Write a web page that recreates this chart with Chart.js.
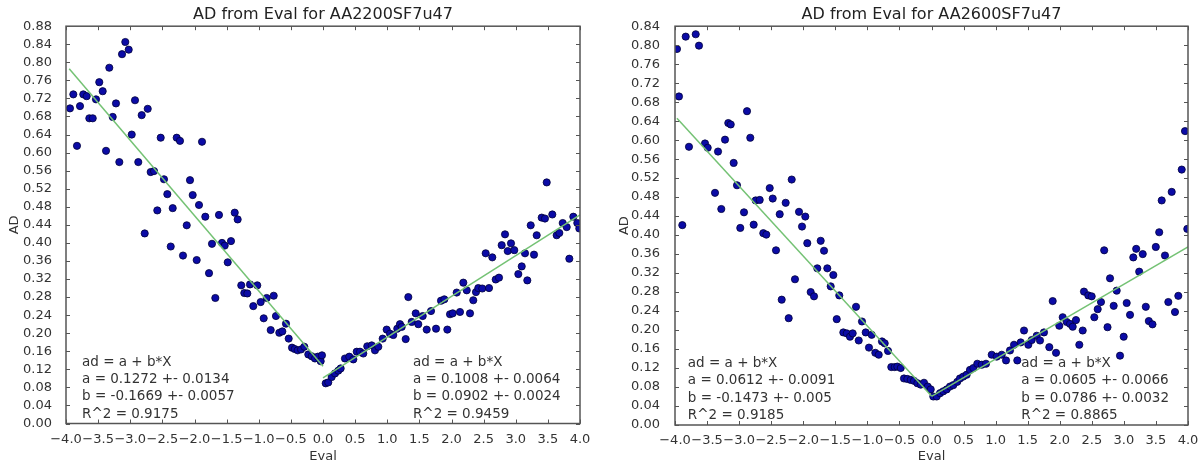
<!DOCTYPE html>
<html><head><meta charset="utf-8">
<script src="https://cdn.jsdelivr.net/npm/chart.js@4.4.1/dist/chart.umd.min.js"></script>
<style>
html,body{margin:0;padding:0;background:#fff;}
#wrap{position:relative;width:1199px;height:464px;overflow:hidden;background:#fff;}
canvas{position:absolute;top:0;}
#c1{left:0;} #c2{left:600px;}
</style></head><body>
<div id="wrap"><canvas id="c1" width="600" height="464"></canvas><canvas id="c2" width="599" height="464"></canvas></div>
<script>
// ---------- data ----------
const c1Title = 'AD from Eval for AA2200SF7u47';
const c2Title = 'AD from Eval for AA2600SF7u47';
const xLabel = 'Eval';
const yLabel = 'AD';
const evalTicks = [-4,-3.5,-3,-2.5,-2,-1.5,-1,-0.5,0,0.5,1,1.5,2,2.5,3,3.5,4];
const c1AdTicks = [0,0.04,0.08,0.12,0.16,0.2,0.24,0.28,0.32,0.36,0.4,0.44,0.48,0.52,0.56,0.6,0.64,0.68,0.72,0.76,0.8,0.84,0.88];
const c2AdTicks = [0,0.04,0.08,0.12,0.16,0.2,0.24,0.28,0.32,0.36,0.4,0.44,0.48,0.52,0.56,0.6,0.64,0.68,0.72,0.76,0.8,0.84];

const c1EvalNeg = [-3.938,-3.886,-3.829,-3.782,-3.731,-3.678,-3.637,-3.584,-3.533,-3.482,-3.429,-3.377,-3.326,-3.273,-3.222,-3.170,-3.128,-3.077,-3.024,-2.977,-2.926,-2.875,-2.822,-2.775,-2.728,-2.682,-2.630,-2.579,-2.526,-2.475,-2.423,-2.370,-2.339,-2.277,-2.226,-2.179,-2.121,-2.070,-2.028,-1.966,-1.930,-1.883,-1.832,-1.774,-1.728,-1.676,-1.619,-1.572,-1.530,-1.483,-1.432,-1.374,-1.328,-1.272,-1.225,-1.178,-1.136,-1.085,-1.023,-0.970,-0.923,-0.876,-0.814,-0.767,-0.732,-0.680,-0.633,-0.576,-0.534,-0.482,-0.440,-0.394,-0.342,-0.291,-0.229,-0.176,-0.125,-0.082,-0.036,-0.016];
const c1AdNeg = [0.698,0.729,0.615,0.703,0.729,0.725,0.676,0.676,0.718,0.756,0.736,0.604,0.788,0.679,0.709,0.579,0.818,0.845,0.828,0.640,0.716,0.579,0.683,0.421,0.697,0.557,0.559,0.472,0.633,0.541,0.508,0.392,0.477,0.633,0.626,0.372,0.439,0.539,0.506,0.362,0.484,0.624,0.458,0.333,0.398,0.278,0.462,0.400,0.394,0.357,0.404,0.467,0.452,0.306,0.289,0.288,0.308,0.260,0.306,0.269,0.233,0.278,0.207,0.283,0.238,0.201,0.204,0.221,0.188,0.168,0.165,0.162,0.164,0.170,0.153,0.149,0.144,0.148,0.138,0.151];
const c1EvalPos = [0.042,0.082,0.135,0.187,0.238,0.275,0.342,0.409,0.472,0.525,0.576,0.627,0.689,0.758,0.809,0.861,0.929,0.991,1.043,1.094,1.156,1.198,1.225,1.287,1.328,1.381,1.443,1.483,1.552,1.614,1.681,1.759,1.837,1.888,1.935,1.977,2.019,2.081,2.132,2.184,2.237,2.288,2.339,2.381,2.417,2.479,2.532,2.584,2.635,2.688,2.739,2.781,2.833,2.875,2.926,2.977,3.040,3.093,3.144,3.180,3.233,3.284,3.326,3.404,3.455,3.482,3.569,3.637,3.678,3.731,3.793,3.834,3.896,3.958,3.989];
const c1AdPos = [0.089,0.091,0.103,0.111,0.117,0.122,0.144,0.148,0.142,0.159,0.159,0.155,0.171,0.173,0.162,0.170,0.188,0.208,0.199,0.196,0.210,0.220,0.214,0.187,0.280,0.225,0.244,0.220,0.238,0.208,0.249,0.210,0.272,0.275,0.208,0.242,0.244,0.290,0.247,0.312,0.295,0.244,0.273,0.291,0.300,0.299,0.377,0.300,0.368,0.319,0.323,0.395,0.419,0.382,0.399,0.384,0.331,0.348,0.377,0.317,0.439,0.374,0.417,0.456,0.454,0.534,0.463,0.417,0.422,0.444,0.435,0.365,0.458,0.444,0.432];
const c1FitNegEval = [-3.95, 0];
const c1FitNegAd = [0.786, 0.127];
const c1FitPosEval = [0, 4];
const c1FitPosAd = [0.101, 0.462];
const c1NotesNeg = ['ad = a + b*X','a = 0.1272 +- 0.0134','b = -0.1669 +- 0.0057','R^2 = 0.9175'];
const c1NotesPos = ['ad = a + b*X','a = 0.1008 +- 0.0064','b = 0.0902 +- 0.0024','R^2 = 0.9459'];

const c2EvalNeg = [-3.969,-3.938,-3.886,-3.833,-3.782,-3.677,-3.626,-3.532,-3.490,-3.376,-3.329,-3.278,-3.220,-3.169,-3.131,-3.085,-3.033,-2.982,-2.924,-2.877,-2.826,-2.773,-2.742,-2.679,-2.623,-2.576,-2.523,-2.476,-2.425,-2.367,-2.336,-2.274,-2.227,-2.180,-2.129,-2.066,-2.019,-1.968,-1.937,-1.884,-1.832,-1.781,-1.728,-1.676,-1.625,-1.572,-1.531,-1.478,-1.438,-1.375,-1.322,-1.271,-1.229,-1.177,-1.135,-1.084,-1.026,-0.975,-0.933,-0.876,-0.823,-0.772,-0.730,-0.678,-0.627,-0.574,-0.533,-0.480,-0.429,-0.377,-0.324,-0.273,-0.221,-0.168,-0.117,-0.059,-0.012];
const c2AdNeg = [0.792,0.692,0.421,0.818,0.586,0.823,0.799,0.593,0.584,0.489,0.576,0.455,0.601,0.636,0.633,0.552,0.505,0.415,0.448,0.661,0.605,0.422,0.473,0.474,0.404,0.401,0.499,0.477,0.368,0.444,0.264,0.468,0.225,0.517,0.307,0.449,0.418,0.439,0.383,0.280,0.271,0.330,0.388,0.367,0.330,0.292,0.316,0.223,0.273,0.195,0.193,0.186,0.193,0.249,0.178,0.218,0.195,0.163,0.190,0.152,0.148,0.176,0.172,0.156,0.122,0.122,0.123,0.120,0.098,0.097,0.095,0.093,0.088,0.085,0.089,0.081,0.075];
const c2EvalPos = [0.028,0.081,0.133,0.184,0.237,0.288,0.340,0.402,0.444,0.496,0.549,0.600,0.652,0.714,0.783,0.850,0.939,1.017,1.095,1.162,1.224,1.287,1.338,1.391,1.443,1.510,1.563,1.641,1.692,1.754,1.837,1.890,1.942,1.993,2.046,2.108,2.160,2.202,2.253,2.305,2.358,2.378,2.445,2.498,2.539,2.592,2.643,2.693,2.745,2.784,2.841,2.888,2.940,2.997,3.044,3.096,3.147,3.192,3.239,3.294,3.342,3.389,3.446,3.498,3.551,3.590,3.641,3.693,3.746,3.797,3.849,3.902,3.953,3.989];
const c2AdPos = [0.060,0.060,0.067,0.071,0.075,0.081,0.084,0.091,0.098,0.102,0.106,0.116,0.120,0.129,0.127,0.129,0.148,0.144,0.148,0.136,0.157,0.169,0.136,0.174,0.199,0.169,0.179,0.188,0.178,0.195,0.164,0.261,0.152,0.209,0.227,0.217,0.213,0.207,0.221,0.169,0.199,0.281,0.273,0.271,0.227,0.244,0.259,0.368,0.206,0.309,0.251,0.283,0.146,0.186,0.257,0.232,0.353,0.371,0.323,0.360,0.249,0.219,0.212,0.375,0.406,0.473,0.357,0.259,0.491,0.238,0.272,0.538,0.619,0.413];
const c2FitNegEval = [-3.97, 0];
const c2FitNegAd = [0.646, 0.061];
const c2FitPosEval = [0, 4];
const c2FitPosAd = [0.0605, 0.375];
const c2NotesNeg = ['ad = a + b*X','a = 0.0612 +- 0.0091','b = -0.1473 +- 0.005','R^2 = 0.9185'];
const c2NotesPos = ['ad = a + b*X','a = 0.0605 +- 0.0066','b = 0.0786 +- 0.0032','R^2 = 0.8865'];

// ---------- drawing ----------
const FONT = '"DejaVu Sans", "Liberation Sans", sans-serif';
const TXT = '#333333';

const framePlugin = {
  id: 'frameNotes',
  afterDraw(chart, args, opts) {
    const {ctx, chartArea: a, scales: {x, y}} = chart;
    ctx.save();
    ctx.strokeStyle = '#555555';
    ctx.lineWidth = 1;
    const tl = 4;
    ctx.beginPath();
    x.ticks.forEach(t => {
      const px = Math.round(x.getPixelForValue(t.value)) + 0.5;
      ctx.moveTo(px, a.bottom); ctx.lineTo(px, a.bottom - tl);
      ctx.moveTo(px, a.top); ctx.lineTo(px, a.top + tl);
    });
    y.ticks.forEach(t => {
      const py = Math.round(y.getPixelForValue(t.value)) + 0.5;
      ctx.moveTo(a.left, py); ctx.lineTo(a.left + tl, py);
      ctx.moveTo(a.right, py); ctx.lineTo(a.right - tl, py);
    });
    ctx.stroke();
    ctx.lineWidth = 1.5;
    ctx.strokeRect(a.left, a.top, a.right - a.left, a.bottom - a.top);
    ctx.fillStyle = TXT;
    ctx.font = '13.5px ' + FONT;
    ctx.textBaseline = 'middle';
    ctx.textAlign = 'left';
    (opts.notes || []).forEach(n => {
      const px = x.getPixelForValue(n.x), py = y.getPixelForValue(n.y);
      n.lines.forEach((line, i) => ctx.fillText(line, px, py - 9.5 - (n.lines.length - 1 - i) * 17.3));
    });
    ctx.restore();
  }
};

function pts(xs, ys) { return xs.map((v, i) => ({x: v, y: ys[i]})); }
function fmt(v, d) { return v.toFixed(d).replace('-', '\u2212'); }

function build(id, o) {
  const lineStyle = {showLine: true, borderColor: '#74c274', borderWidth: 1.5, pointRadius: 0, fill: false, order: 1};
  return new Chart(document.getElementById(id), {
    type: 'scatter',
    data: {datasets: [
      {data: pts(o.evalNeg, o.adNeg).concat(pts(o.evalPos, o.adPos)), backgroundColor: '#0b0ba6', borderColor: '#00003a', borderWidth: 0.8, pointRadius: 3.6, order: 2},
      Object.assign({data: pts(o.fitNegEval, o.fitNegAd)}, lineStyle),
      Object.assign({data: pts(o.fitPosEval, o.fitPosAd)}, lineStyle)
    ]},
    options: {
      responsive: false, animation: false, devicePixelRatio: 1,
      layout: {padding: {left: 0, right: o.padRight, top: 0, bottom: 0}},
      plugins: {
        legend: {display: false}, tooltip: {enabled: false},
        title: {display: true, text: o.title, fullSize: false, color: '#222222', font: {family: FONT, size: 16, weight: 'normal'}, padding: {top: 5, bottom: 2}},
        frameNotes: {notes: o.notes}
      },
      scales: {
        x: {
          type: 'linear', position: 'bottom', min: evalTicks[0], max: evalTicks[evalTicks.length - 1],
          afterBuildTicks: s => { s.ticks = evalTicks.map(v => ({value: v})); },
          afterFit: s => { s.height = o.xAxisHeight; s.paddingLeft = 0; s.paddingRight = 0; },
          grid: {display: false}, border: {display: false},
          ticks: {autoSkip: false, maxRotation: 0, minRotation: 0, padding: 0, color: TXT, font: {family: FONT, size: 13}, callback: v => fmt(v, 1)},
          title: {display: true, text: xLabel, color: TXT, font: {family: FONT, size: 13}, padding: {top: 0, bottom: 0}}
        },
        y: {
          type: 'linear', position: 'left', min: 0, max: o.yTicks[o.yTicks.length - 1],
          afterBuildTicks: s => { s.ticks = o.yTicks.map(v => ({value: v})); },
          afterFit: s => { s.width = o.yAxisWidth; s.paddingTop = 0; s.paddingBottom = 0; },
          grid: {display: false}, border: {display: false},
          ticks: {autoSkip: false, padding: o.yTickPad, color: TXT, font: {family: FONT, size: 13}, callback: v => fmt(v, 2)},
          title: {display: true, text: yLabel, color: TXT, font: {family: FONT, size: 13}, padding: {top: o.yTitlePad, bottom: 0}}
        }
      }
    },
    plugins: [framePlugin]
  });
}

build('c1', {
  title: c1Title, evalNeg: c1EvalNeg, adNeg: c1AdNeg, evalPos: c1EvalPos, adPos: c1AdPos,
  fitNegEval: c1FitNegEval, fitNegAd: c1FitNegAd, fitPosEval: c1FitPosEval, fitPosAd: c1FitPosAd,
  yTicks: c1AdTicks, yAxisWidth: 66, padRight: 20, xAxisHeight: 40.5, yTickPad: 6, yTitlePad: 7,
  notes: [{x: -3.75, y: 0, lines: c1NotesNeg}, {x: 1.40, y: 0, lines: c1NotesPos}]
});
build('c2', {
  title: c2Title, evalNeg: c2EvalNeg, adNeg: c2AdNeg, evalPos: c2EvalPos, adPos: c2AdPos,
  fitNegEval: c2FitNegEval, fitNegAd: c2FitNegAd, fitPosEval: c2FitPosEval, fitPosAd: c2FitPosAd,
  yTicks: c2AdTicks, yAxisWidth: 75, padRight: 11, xAxisHeight: 39, yTickPad: 7, yTitlePad: 17,
  notes: [{x: -3.80, y: 0, lines: c2NotesNeg}, {x: 1.40, y: 0, lines: c2NotesPos}]
});
</script>
</body></html>
